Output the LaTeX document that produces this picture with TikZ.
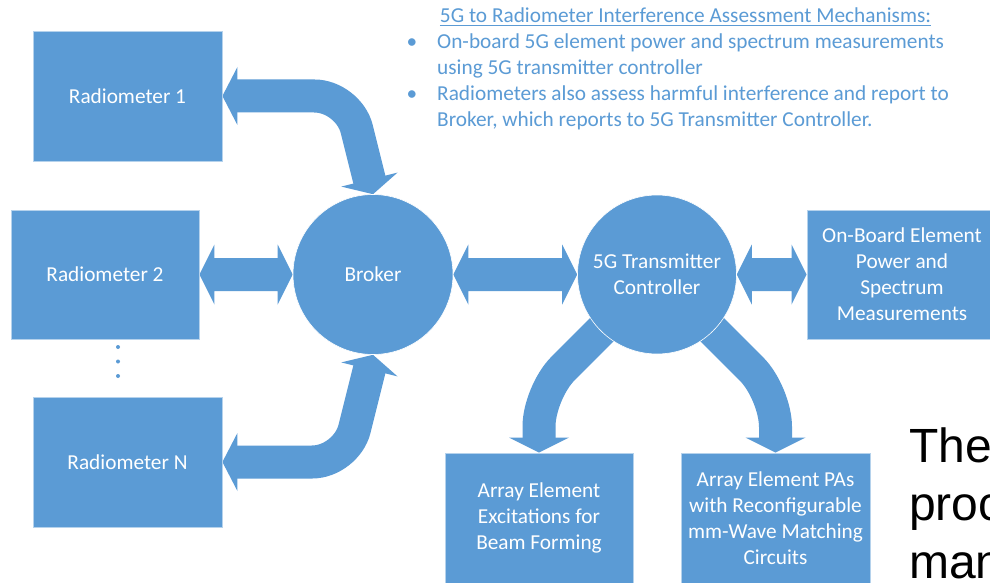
\documentclass[tikz,border=0pt]{standalone}
\usepackage{fontspec}
\setmainfont{Carlito}
\newfontfamily\arialfont{Liberation Sans}
\usetikzlibrary{calc}
\definecolor{boxblue}{HTML}{5B9BD5}
\pgfdeclarelayer{bg}
\pgfsetlayers{bg,main}

% double-headed straight block arrow between two tips at equal height
\newcommand\twowayarrow[2]{%
  \fill[flow] (#1) -- ++(15,-30) -- ++(0,13.5) -- ($(#2)+(-15,-16.5)$)
    -- ++(0,-13.5) -- (#2) -- ++(-15,30) -- ++(0,-13.5)
    -- ($(#1)+(15,16.5)$) -- ++(0,13.5) -- cycle;}

\begin{document}
\begin{tikzpicture}[x=1pt,y=-1pt,
  every node/.style={font=\fontsize{21.3}{26}\selectfont},
  block/.style={rectangle, fill=boxblue, draw=boxblue!45!white, line width=0.8,
    text=white, align=center, inner sep=0, minimum width=189, minimum height=130},
  hub/.style={circle, fill=boxblue, draw=white, line width=0.6,
    text=white, align=center, inner sep=0, minimum size=160},
  flow/.style={fill=boxblue},
  shaft/.style={draw=boxblue, line width=33, rounded corners=34},
  note/.style={text=boxblue, inner sep=0, anchor=base west},
  bigword/.style={inner sep=0, anchor=base west, text=black,
    font=\arialfont\fontsize{48}{58}\selectfont},
]
\useasboundingbox (0,0) rectangle (990,583);

% blocks
\node[block] (r1) at (127.5,96) {Radiometer 1};
\node[block, minimum width=188, minimum height=129] (r2) at (105,274.5) {Radiometer 2};
\node[block] (rn) at (127.5,462) {Radiometer N};
\node[hub] (broker) at (373,274.5) {Broker};
\node[hub, minimum size=159] (g5) at (657,274.5) {5G Transmitter\\Controller};
\node[block, minimum width=190, minimum height=129] (obm) at (902,274.5)
  {On-Board Element\\Power and\\Spectrum\\Measurements};
\node[block, minimum width=188] (exc) at (539,518)
  {Array Element\\Excitations for\\Beam Forming};
\node[block] (pa) at (775.5,518)
  {Array Element PAs\\with Reconfigurable\\mm-Wave Matching\\Circuits};

% vertical ellipsis between Radiometer 2 and Radiometer N
\fill[boxblue] (118,347) circle (2) (118,361.5) circle (2) (118,376) circle (2);

% connectors
\begin{pgfonlayer}{bg}
  \fill[white] (0,0) rectangle (990,583);

  \twowayarrow{r2.east}{broker.west}
  \twowayarrow{broker.east}{g5.west}
  \twowayarrow{g5.east}{obm.west}

  % Radiometer 1 <-> Broker
  \coordinate (bendA) at (348.5,96);
  \draw[shaft] ($(r1.east)+(14,0)$) -- (bendA) -- ($(broker.north)+(-3.4,-13.6)$);
  \fill[flow] (r1.east) -- ++(15,-29) -- ++(0,58) -- cycle;
  \fill[flow] (broker.north) -- ++(24.5,-21.6) -- ++(-56.2,14) -- cycle;

  % Radiometer N <-> Broker
  \coordinate (bendB) at (346.2,462);
  \draw[shaft] ($(rn.east)+(14,0)$) -- (bendB) -- ($(broker.south)+(-3.4,13.6)$);
  \fill[flow] (rn.east) -- ++(15,-29) -- ++(0,58) -- cycle;
  \fill[flow] (broker.south) -- ++(24.5,21.6) -- ++(-56.2,-14) -- cycle;

  % controller -> array blocks
  \coordinate (bendC) at (539,392.5);
  \draw[shaft] (g5.center) -- (bendC) -- ($(exc.north)+(0,-14)$);
  \fill[flow] (exc.north) -- ++(-30,-15) -- ++(60,0) -- cycle;
  \coordinate (bendD) at (775.5,393);
  \draw[shaft] (g5.center) -- (bendD) -- ($(pa.north)+(0,-14)$);
  \fill[flow] (pa.north) -- ++(-30,-15) -- ++(60,0) -- cycle;
\end{pgfonlayer}

% assessment notes
\node[note, anchor=base] (title) at (685.5,23)
  {5G to Radiometer Interference Assessment Mechanisms:};
\draw[boxblue, line width=1.1] ($(title.base west)+(0,2.5)$) -- ($(title.base east)+(0,2.5)$);
\node[note, anchor=base] (bulA) at (412,49) {•};
\node[note] (lineA1) at (437,49) {On-board 5G element power and spectrum measurements};
\node[note] (lineA2) at (437,75) {using 5G transmitter controller};
\node[note, anchor=base] (bulB) at (412,101) {•};
\node[note] (lineB1) at (437,101) {Radiometers also assess harmful interference and report to};
\node[note] (lineB2) at (437,127) {Broker, which reports to 5G Transmitter Controller.};

% large black words at the lower right
\node[bigword] (w1) at (909,462) {The};
\node[bigword] (w2) at (909,520) {proc};
\node[bigword] (w3) at (909,578) {man};
\end{tikzpicture}
\end{document}
